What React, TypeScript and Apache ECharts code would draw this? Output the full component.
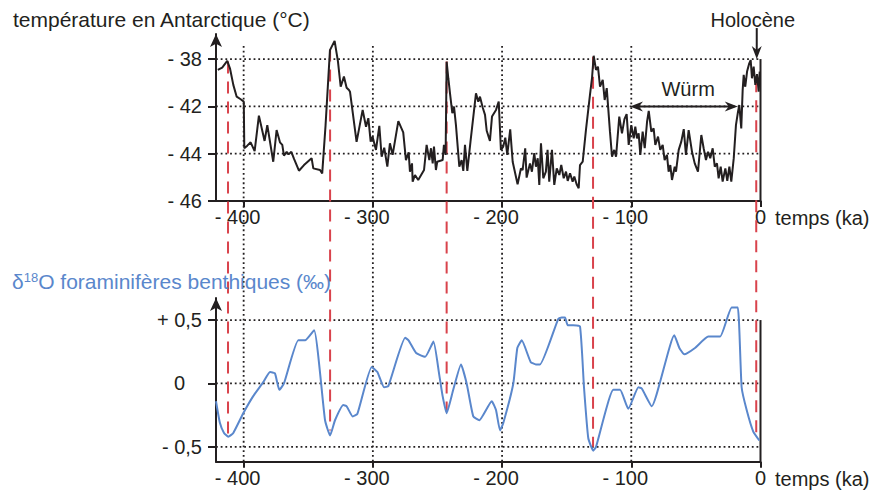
import React, { useEffect, useRef } from 'react';
import * as echarts from 'echarts';

// ---- data (ages in ka, negative = before present) ----
const tempAge = [
  -420.0, -416.6, -412.7, -410.6, -408.0, -405.4, -402.3, -399.9, -399.5, -397.2,
  -394.6, -391.5, -388.2, -383.8, -381.7, -377.1, -374.5, -371.9, -370.1, -368.8,
  -366.7, -365.2, -363.1, -361.0, -357.2, -353.3, -347.4, -346.1, -340.9, -339.2,
  -336.6, -333.2, -329.6, -327.0, -324.9, -322.4, -320.3, -318.5, -317.7, -312.6,
  -307.9, -305.3, -303.5, -301.7, -300.2, -297.6, -295.0, -293.2, -291.2, -288.8,
  -286.8, -284.7, -280.3, -276.5, -274.4, -272.3, -271.3, -269.7, -269.2, -267.4,
  -264.9, -260.4, -258.4, -256.3, -255.0, -253.7, -252.7, -251.2, -250.2, -246.0,
  -245.0, -243.7, -242.9, -241.6, -240.3, -238.5, -237.2, -235.7, -233.1, -231.3,
  -230.0, -228.7, -226.9, -224.3, -220.2, -218.4, -217.1, -215.0, -213.2, -211.9,
  -209.4, -207.8, -204.7, -202.6, -200.9, -199.1, -197.5, -196.0, -193.7, -191.8,
  -188.0, -185.4, -184.1, -182.1, -181.0, -178.4, -176.9, -175.1, -173.8, -172.4,
  -171.2, -169.9, -168.1, -166.1, -164.8, -163.5, -161.4, -159.6, -157.7, -155.7,
  -154.2, -152.3, -150.5, -149.2, -147.4, -145.4, -144.1, -142.3, -140.7, -139.7,
  -137.6, -135.1, -132.0, -130.4, -129.1, -127.3, -125.8, -124.2, -122.1, -120.6,
  -119.0, -116.5, -114.9, -113.2, -111.8, -109.3, -107.2, -105.3, -103.6, -102.0,
  -100.0, -98.1, -96.9, -95.6, -94.3, -93.0, -91.2, -89.6, -87.8, -86.5,
  -84.5, -82.7, -81.4, -79.3, -77.6, -75.7, -74.2, -72.4, -71.1, -69.8,
  -68.5, -66.4, -65.4, -63.3, -61.3, -59.4, -57.7, -55.6, -53.0, -50.9,
  -48.4, -45.8, -44.0, -42.2, -40.6, -38.9, -37.0, -35.4, -33.7, -32.4,
  -30.8, -29.3, -27.2, -25.7, -24.1, -22.6, -20.7, -19.0, -17.4, -16.4,
  -14.9, -13.8, -13.0, -11.8, -10.4, -8.7, -7.6, -6.6, -5.3, -4.0,
  -2.7, -1.4, -0.6,
];
const tempValue = [
  -40.46, -40.36, -40.08, -40.39, -41.09, -41.59, -41.70, -41.80, -43.77, -43.66,
  -43.52, -43.89, -42.39, -43.46, -42.79, -44.34, -43.00, -43.52, -43.63, -44.08,
  -43.92, -44.03, -43.92, -44.22, -44.72, -44.48, -44.19, -44.62, -44.69, -44.83,
  -42.79, -39.62, -39.23, -40.11, -41.17, -40.74, -41.21, -41.31, -41.38, -43.50,
  -42.15, -42.86, -42.50, -43.49, -43.28, -43.84, -42.82, -44.13, -43.75, -44.55,
  -43.56, -44.05, -42.62, -43.10, -44.27, -43.94, -44.76, -44.41, -45.18, -44.90,
  -45.11, -44.69, -43.63, -44.27, -43.77, -44.41, -43.70, -44.69, -44.34, -44.27,
  -43.63, -44.05, -40.11, -40.81, -41.45, -42.29, -42.01, -42.79, -44.55, -44.27,
  -44.73, -43.63, -44.73, -43.42, -41.45, -41.80, -41.59, -42.05, -42.36, -43.03,
  -43.46, -42.43, -42.15, -41.80, -43.84, -43.70, -43.32, -44.05, -42.97, -44.34,
  -45.29, -44.62, -44.69, -43.77, -45.01, -44.41, -44.76, -43.98, -44.55, -44.19,
  -45.32, -43.56, -45.04, -44.76, -43.84, -45.18, -43.84, -45.32, -44.62, -44.90,
  -44.48, -45.04, -44.76, -45.15, -44.83, -45.18, -44.97, -45.29, -45.46, -44.48,
  -44.34, -43.00, -41.52, -40.81, -39.86, -40.46, -40.32, -41.17, -40.88, -41.73,
  -41.23, -43.07, -44.13, -43.84, -44.13, -42.43, -43.14, -42.54, -42.33, -43.63,
  -42.79, -43.35, -42.86, -43.35, -43.14, -44.05, -43.07, -43.77, -42.65, -42.19,
  -43.07, -42.93, -43.63, -43.28, -43.84, -43.63, -44.27, -44.05, -44.76, -44.48,
  -45.11, -44.55, -44.76, -43.84, -43.49, -42.96, -44.05, -43.00, -43.92, -44.41,
  -44.76, -43.21, -43.77, -44.27, -43.92, -44.19, -43.77, -44.55, -44.41, -45.04,
  -44.55, -45.18, -44.62, -45.15, -44.55, -45.18, -44.19, -42.79, -42.22, -41.94,
  -42.93, -41.31, -40.67, -41.17, -40.53, -40.18, -40.04, -40.81, -40.32, -41.09,
  -40.64, -41.38, -40.53,
];

const d18OAge = [
  -421.4, -418.4, -415.2, -411.9, -408.0, -400.3, -392.6, -384.8, -379.6, -375.8,
  -372.4, -368.8, -357.7, -352.5, -345.5, -337.0, -333.1, -329.3, -322.9, -320.3,
  -315.6, -312.0, -300.9, -296.5, -291.3, -288.0, -275.0, -272.4, -266.5, -259.5,
  -253.1, -248.8, -246.0, -242.9, -237.8, -231.8, -227.4, -222.3, -217.6, -208.0,
  -204.7, -201.6, -199.0, -191.3, -188.2, -184.8, -177.9, -173.8, -170.7, -156.5,
  -153.9, -151.3, -149.2, -144.9, -139.7, -136.6, -133.3, -129.4, -127.3, -113.9,
  -108.7, -102.3, -94.5, -91.9, -84.2, -66.7, -62.8, -59.0, -50.7, -40.4,
  -31.3, -22.3, -17.6, -14.6, -10.7, -5.6, -0.9,
];
const d18OValue = [
  -0.14, -0.31, -0.39, -0.42, -0.39, -0.235, -0.10, 0.01, 0.09, 0.08,
  -0.05, 0.00, 0.34, 0.34, 0.42, -0.29, -0.41, -0.29, -0.17, -0.18,
  -0.26, -0.24, 0.13, 0.09, -0.03, -0.02, 0.36, 0.34, 0.24, 0.21,
  0.33, 0.08, -0.10, -0.235, -0.05, 0.15, 0.00, -0.26, -0.29, -0.14,
  -0.21, -0.37, -0.31, 0.00, 0.28, 0.34, 0.17, 0.15, 0.15, 0.51,
  0.52, 0.52, 0.46, 0.46, 0.45, -0.03, -0.43, -0.53, -0.50, -0.05,
  -0.05, -0.20, -0.03, -0.04, -0.18, 0.38, 0.28, 0.23, 0.28, 0.37,
  0.37, 0.60, 0.60, -0.03, -0.21, -0.38, -0.45,
];

// red dashed correlation lines: age, top (temperature) end, bottom (δ18O) end
const eventAge = [-412.1, -333.1, -242.9, -129.6, -3.3];
const eventTemp = [-40.1, -39.6, -40.1, -39.9, -40.9];
const eventD18O = [-0.42, -0.37, -0.22, -0.5, -0.42];

const timeTicks = [-400, -300, -200, -100, 0];
const timeTickLabels = ['- 400', '- 300', '- 200', '- 100', '0'];
const tempTicks = [-46, -44, -42, -40];
const tempTickLabels = ['- 46', '- 44', '- 42', '- 38'];
const d18OTicks = [-0.5, 0, 0.5];
const d18OTickLabels = ['- 0,5', '0', '+ 0,5'];

const wurmSpan = [-101, -17.6];
const wurmLevel = -42;
const holoceneAge = -2.9;

const X_MIN = -421.4;
const X_MAX = 0;
const T_MIN = -46;
const T_MAX = -38.94;
const D_MIN = -0.617;
const D_MAX = 0.674;

const FONT = '"Liberation Sans", Arial, Helvetica, sans-serif';
const INK = '#231f20';
const BLUE = '#5a87cc';
const RED = '#d9434c';

function xAxisCfg(gridIndex: number) {
  return {
    type: 'value',
    gridIndex,
    min: X_MIN,
    max: X_MAX,
    axisLine: { show: true, onZero: false, lineStyle: { color: INK, width: 2 } },
    axisTick: { show: true, customValues: timeTicks, length: 6, lineStyle: { color: INK, width: 2 } },
    axisLabel: {
      show: true,
      customValues: timeTicks,
      margin: 6,
      formatter: (v: number) => {
        const i = timeTicks.indexOf(v);
        if (i < 0) return '';
        return v === 0 ? '{z|' + timeTickLabels[i] + '}' : '{n|' + timeTickLabels[i] + '}';
      },
      rich: {
        n: { fontFamily: FONT, fontSize: 20, color: INK, padding: [0, 12, 0, 0] },
        z: { fontFamily: FONT, fontSize: 20, color: INK },
      },
    },
    splitLine: { show: false },
  };
}

function yAxisCfg(gridIndex: number, min: number, max: number, interval: number, ticks: number[], labels: string[], zeroPad: boolean) {
  return {
    type: 'value',
    gridIndex,
    min,
    max,
    interval,
    axisLine: {
      show: true,
      onZero: false,
      symbol: ['none', 'arrow'],
      symbolSize: [9, 13],
      lineStyle: { color: INK, width: 2 },
    },
    axisTick: { show: true, customValues: ticks, length: 8, lineStyle: { color: INK, width: 2 } },
    axisLabel: {
      show: true,
      customValues: ticks,
      margin: 14,
      formatter: (v: number) => {
        let i = -1;
        ticks.forEach((t, k) => { if (Math.abs(t - v) < 1e-6) i = k; });
        if (i < 0) return '';
        if (zeroPad && ticks[i] === 0) return '{z|' + labels[i] + '}';
        return '{n|' + labels[i] + '}';
      },
      rich: {
        n: { fontFamily: FONT, fontSize: 20, color: INK },
        z: { fontFamily: FONT, fontSize: 20, color: INK, padding: [0, 17, 0, 0] },
      },
    },
    splitLine: { show: false },
  };
}

export default function App() {
  const ref = useRef<HTMLDivElement>(null);

  useEffect(() => {
    if (!ref.current) return;
    const chart = echarts.init(ref.current, null, { renderer: 'svg' });

    const option: any = {
      animation: false,
      backgroundColor: '#ffffff',
      grid: [
        { left: 216, right: 127.5, top: 34, height: 167, outerBoundsMode: 'none' },
        { left: 216, right: 127.5, top: 298, height: 163.7, outerBoundsMode: 'none' },
      ],
      xAxis: [xAxisCfg(0), xAxisCfg(1)],
      yAxis: [
        yAxisCfg(0, T_MIN, T_MAX, 2, tempTicks, tempTickLabels, false),
        yAxisCfg(1, D_MIN, D_MAX, 0.5, d18OTicks, d18OTickLabels, true),
      ],
      series: [
        {
          type: 'line',
          xAxisIndex: 0,
          yAxisIndex: 0,
          data: tempAge.map((a, i) => [a, tempValue[i]]),
          symbol: 'none',
          lineStyle: { color: INK, width: 2 },
          z: 3,
          silent: true,
        },
        {
          type: 'line',
          xAxisIndex: 1,
          yAxisIndex: 1,
          data: d18OAge.map((a, i) => [a, d18OValue[i]]),
          symbol: 'none',
          smooth: 0.15,
          lineStyle: { color: BLUE, width: 2 },
          z: 3,
          silent: true,
        },
      ],
    };
    chart.setOption(option);

    const p0 = (x: number, y: number) => chart.convertToPixel({ xAxisIndex: 0, yAxisIndex: 0 } as any, [x, y]) as number[];
    const p1 = (x: number, y: number) => chart.convertToPixel({ xAxisIndex: 1, yAxisIndex: 1 } as any, [x, y]) as number[];

    const els: any[] = [];
    const line = (a: number[], b: number[], style: any, z = 1) =>
      els.push({ type: 'line', z, silent: true, shape: { x1: a[0], y1: a[1], x2: b[0], y2: b[1] }, style });

    const dotted = { stroke: INK, lineWidth: 1.8, lineDash: [1.8, 2.9] };
    const solid = { stroke: INK, lineWidth: 2 };
    const dashed = { stroke: RED, lineWidth: 2, lineDash: [12, 8] };

    // vertical dotted lines through both panels
    timeTicks.filter((t) => t !== 0).forEach((t) => line(p0(t, -39.45), p1(t, D_MIN), dotted));
    // horizontal dotted lines
    tempTicks.slice(1).forEach((v) => line(p0(X_MIN, v), p0(X_MAX, v), dotted));
    d18OTicks.forEach((v) => line(p1(X_MIN, v), p1(X_MAX, v), dotted));
    // right frame lines
    line(p0(X_MAX, tempTicks[tempTicks.length - 1]), p0(X_MAX, T_MIN), solid, 2);
    line(p1(X_MAX, d18OTicks[d18OTicks.length - 1]), p1(X_MAX, D_MIN), solid, 2);
    // red correlation lines
    eventAge.forEach((a, i) => line(p0(a, eventTemp[i]), p1(a, eventD18O[i]), dashed, 2));

    // Holocène arrow
    const tip = p0(holoceneAge, -40);
    line([tip[0], tip[1] - 31], [tip[0], tip[1] - 6], { stroke: INK, lineWidth: 2 }, 5);
    els.push({
      type: 'polygon', z: 5, silent: true,
      shape: { points: [[tip[0], tip[1]], [tip[0] - 5, tip[1] - 13], [tip[0], tip[1] - 9], [tip[0] + 5, tip[1] - 13]] },
      style: { fill: INK },
    });
    els.push({
      type: 'text', z: 5, silent: true, x: tip[0] - 4, y: tip[1] - 39,
      style: { text: 'Holocène', fontFamily: FONT, fontSize: 20, fill: INK, align: 'center', verticalAlign: 'middle' },
    });

    // Würm double arrow
    const wa = p0(wurmSpan[0], wurmLevel);
    const wb = p0(wurmSpan[1], wurmLevel);
    line([wa[0] + 6, wa[1]], [wb[0] - 6, wb[1]], { stroke: INK, lineWidth: 2 }, 5);
    els.push({
      type: 'polygon', z: 5, silent: true,
      shape: { points: [[wa[0], wa[1]], [wa[0] + 13, wa[1] - 5], [wa[0] + 9, wa[1]], [wa[0] + 13, wa[1] + 5]] },
      style: { fill: INK },
    });
    els.push({
      type: 'polygon', z: 5, silent: true,
      shape: { points: [[wb[0], wb[1]], [wb[0] - 13, wb[1] - 5], [wb[0] - 9, wb[1]], [wb[0] - 13, wb[1] + 5]] },
      style: { fill: INK },
    });
    const wm = p0(-56, wurmLevel);
    els.push({
      type: 'text', z: 5, silent: true, x: wm[0], y: wm[1] - 17,
      style: { text: 'Würm', fontFamily: FONT, fontSize: 20, fill: INK, align: 'center', verticalAlign: 'middle' },
    });

    // axis names
    const e0 = p0(X_MAX, T_MIN);
    const e1 = p1(X_MAX, D_MIN);
    [e0, e1].forEach((e) =>
      els.push({
        type: 'text', z: 5, silent: true, x: e[0] + 14.5, y: e[1] + 17,
        style: { text: 'temps (ka)', fontFamily: FONT, fontSize: 20, fill: INK, align: 'left', verticalAlign: 'middle' },
      })
    );

    // titles
    els.push({
      type: 'text', z: 5, silent: true, x: 13, y: 19,
      style: { text: 'température en Antarctique (°C)', fontFamily: FONT, fontSize: 21, fill: INK, align: 'left', verticalAlign: 'middle' },
    });
    els.push({
      type: 'text', z: 5, silent: true, x: 12, y: 281,
      style: {
        text: '{a|δ}{s|18}{a|O foraminifères benthiques (‰)}',
        align: 'left',
        verticalAlign: 'middle',
        rich: {
          a: { fontFamily: FONT, fontSize: 21, fill: BLUE },
          s: { fontFamily: FONT, fontSize: 13, fill: BLUE, verticalAlign: 'top' },
        },
      },
    });

    chart.setOption({ graphic: { elements: els } });

    return () => chart.dispose();
  }, []);

  return (
    <div
      ref={ref}
      style={{ position: 'fixed', left: 0, top: 0, width: 888, height: 490, background: '#fff' }}
    />
  );
}
